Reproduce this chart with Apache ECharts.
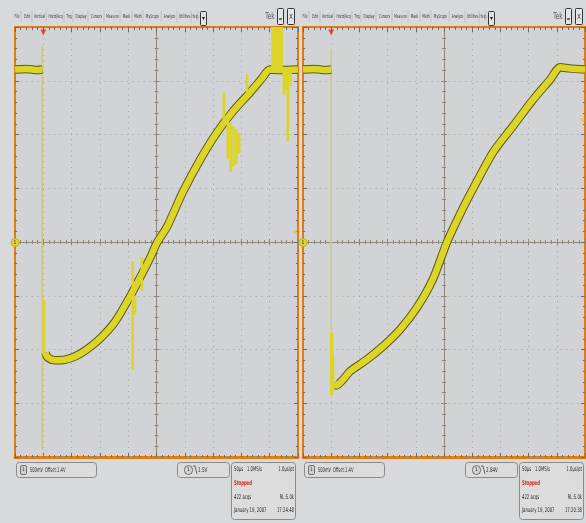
<!DOCTYPE html>
<html><head><meta charset="utf-8">
<script src="https://cdn.jsdelivr.net/npm/echarts@6/dist/echarts.min.js"></script>
<style>html,body{margin:0;padding:0;background:#d8d9da;}#c{width:586px;height:523px;}</style>
</head><body><div id="c"></div>
<script>
// Time in µs relative to trigger (50 µs/div), level in vertical divisions (500 mV/div, offset 1.4 V)
const leftTime  = [-50, -30, -10, -2, null, 4, 8, 21, 38, 56, 74, 100, 127, 153, 171, 189, 201, 219, 247, 277, 307, 335, 365, 386, 400, 418, 450];
const leftLevel = [3.21, 3.22, 3.20, 3.21, null, -2.06, -2.15, -2.20, -2.19, -2.13, -2.02, -1.80, -1.48, -1.02, -0.66, -0.29, -0.01, 0.29, 0.94, 1.53, 2.04, 2.43, 2.78, 3.04, 3.21, 3.20, 3.21];
const rightTime  = [-50, -30, -10, 0, null, 5, 9, 21, 33, 63, 92, 122, 152, 180, 205, 228, 251, 287, 322, 358, 388, 406, 423, 450];
const rightLevel = [3.21, 3.22, 3.20, 3.21, null, -2.62, -2.67, -2.56, -2.41, -2.19, -1.94, -1.63, -1.22, -0.70, -0.01, 0.51, 0.98, 1.67, 2.15, 2.65, 3.02, 3.25, 3.23, 3.21];
// glitches / spikes: time, top level, bottom level
const leftGlitchTime   = [1, 158, 162, 174, 319, 326, 331, 336, 341, 346, 360, 405, 409, 413, 417, 421, 425, 429, 432, 437];
const leftGlitchTop    = [-1.07, -0.36, -1.00, -0.29, 2.78, 2.28, 2.22, 2.15, 2.10, 2.03, 3.12, 4.00, 4.00, 4.00, 4.00, 4.00, 3.20, 3.20, 3.20, 3.20];
const leftGlitchBottom = [-2.12, -2.38, -1.35, -0.90, 2.20, 1.55, 1.30, 1.40, 1.45, 1.65, 2.70, 3.20, 3.20, 3.20, 3.20, 3.20, 2.74, 2.84, 1.87, 2.90];
const rightGlitchTime   = [1, 2.5];
const rightGlitchTop    = [-1.68, -2.10];
const rightGlitchBottom = [-2.85, -2.75];
// thin trigger edge line: time, top, bottom
const edgeLeft  = [-2, 3.64, -3.86];
const edgeRight = [0, 3.58, -1.63];
// trigger level markers (div)
const trigLevelDiv = [0.19, 2.28];
// texts
const menuItems = ['File','Edit','Vertical','Horiz/Acq','Trig','Display','Cursors','Measure','Mask','Math','MyScope','Analyze','Utilities','Help'];
const chanScale = '500mV', chanOffset = 'Offset:1.4V';
const trigLevels = ['1.5V', '2.84V'];
const timebase = ['50µs', '1.0MS/s', '1.0µs/pt'];
const acqState = 'Stopped';
const acqCount = '422 acqs', recLen = 'RL:5.0k';
const dates = ['January 19, 2007', 'January 19, 2007'];
const clock = ['17:24:48', '17:20:38'];

const ORANGE = '#e07c16', TICK = '#6a6a6a', GRIDC = '#a3a5a8', CENTER = '#8e877a';
const YEL = '#dcd529', DARK = '#5e5a14', EDGE = '#cdcc72';
const NARROW = '"Liberation Sans Narrow","DejaVu Sans Condensed","Liberation Sans",sans-serif';

const panels = [{left:15, top:27, width:283, height:430}, {left:303, top:27, width:282, height:430}];
const chart = echarts.init(document.getElementById('c'));

const xAxis = [], yAxis = [];
panels.forEach((p, g) => {
  const xb = g * 5, yb = g * 4;
  const bx = {gridIndex:g, type:'value', min:-50, max:450, interval:50, axisLabel:{show:false}, splitLine:{show:false}, axisTick:{show:false}, axisLine:{show:false, onZero:false}};
  xAxis.push(
    {...bx, position:'bottom', axisLine:{show:true,onZero:false,lineStyle:{color:ORANGE,width:3}}, axisTick:{show:true,inside:true,length:4,lineStyle:{color:TICK}}, minorTick:{show:true,splitNumber:5,length:2,lineStyle:{color:TICK}}, splitLine:{show:true,lineStyle:{color:GRIDC,type:[1,4.6],width:1}}},
    {...bx, position:'top', axisLine:{show:true,onZero:false,lineStyle:{color:ORANGE,width:2}}, axisTick:{show:true,inside:true,length:5,lineStyle:{color:TICK}}, minorTick:{show:true,splitNumber:5,length:3,lineStyle:{color:TICK}}},
    {...bx, position:'bottom', axisLine:{show:true,onZero:true,onZeroAxisIndex:yb,lineStyle:{color:CENTER,width:1}}, axisTick:{show:true,inside:true,length:3,lineStyle:{color:CENTER}}, minorTick:{show:true,splitNumber:5,length:2,lineStyle:{color:CENTER}}},
    {...bx, position:'bottom', axisLine:{show:false,onZero:true,onZeroAxisIndex:yb}, axisTick:{show:true,inside:false,length:3,lineStyle:{color:CENTER}}, minorTick:{show:true,splitNumber:5,length:2,lineStyle:{color:CENTER}}},
    {...bx, min:-250, max:250, position:'bottom'}
  );
  const by = {gridIndex:g, type:'value', min:-4, max:4, interval:1, axisLabel:{show:false}, splitLine:{show:false}, axisTick:{show:false}, axisLine:{show:false,onZero:false}};
  yAxis.push(
    {...by, position:'left', axisLine:{show:true,onZero:false,lineStyle:{color:ORANGE,width:2}}, axisTick:{show:true,inside:true,length:4,lineStyle:{color:TICK}}, minorTick:{show:true,splitNumber:5,length:2,lineStyle:{color:TICK}}, splitLine:{show:true,lineStyle:{color:GRIDC,type:[1,4.6],width:1}}},
    {...by, position:'right', axisLine:{show:true,onZero:false,lineStyle:{color:ORANGE,width:2}}, axisTick:{show:true,inside:true,length:4,lineStyle:{color:TICK}}, minorTick:{show:true,splitNumber:5,length:2,lineStyle:{color:TICK}}},
    {...by, position:'left', axisLine:{show:true,onZero:true,onZeroAxisIndex:xb+4,lineStyle:{color:CENTER,width:1}}, axisTick:{show:true,inside:true,length:3,lineStyle:{color:CENTER}}, minorTick:{show:true,splitNumber:5,length:2,lineStyle:{color:CENTER}}},
    {...by, position:'left', axisLine:{show:false,onZero:true,onZeroAxisIndex:xb+4}, axisTick:{show:true,inside:false,length:3,lineStyle:{color:CENTER}}, minorTick:{show:true,splitNumber:5,length:2,lineStyle:{color:CENTER}}}
  );
});

const zip = (t, v) => t.map((x, i) => (x === null ? [null, null] : [x, v[i]]));
const segs = (t, a, b) => { const out = []; t.forEach((x, i) => { out.push([x, a[i]], [x, b[i]], [x, null]); }); return out; };

const series = [];
const traces = [
  [leftTime, leftLevel, edgeLeft, leftGlitchTime, leftGlitchTop, leftGlitchBottom, 2.6],
  [rightTime, rightLevel, edgeRight, rightGlitchTime, rightGlitchTop, rightGlitchBottom, 3.5]
];
traces.forEach(([t, v, e, gt, ga, gb, gw], g) => {
  const xi = g * 5, yi = g * 4;
  series.push({type:'line', xAxisIndex:xi, yAxisIndex:yi, data:[[e[0], e[1]], [e[0], e[2]]], showSymbol:false, lineStyle:{color:EDGE, width:1.6}, z:2, silent:true});
  series.push({type:'line', xAxisIndex:xi, yAxisIndex:yi, data:zip(t, v), smooth:0.25, showSymbol:false, connectNulls:false, lineStyle:{color:DARK, width:8.5}, z:3, silent:true});
  series.push({type:'line', xAxisIndex:xi, yAxisIndex:yi, data:zip(t, v), smooth:0.25, showSymbol:false, connectNulls:false, lineStyle:{color:YEL, width:6.5}, z:4, silent:true});
  series.push({type:'line', xAxisIndex:xi, yAxisIndex:yi, data:segs(gt, ga, gb), showSymbol:false, connectNulls:false, lineStyle:{color:YEL, width:gw, cap:'butt'}, z:5, silent:true});
  series.push({type:'scatter', xAxisIndex:xi, yAxisIndex:yi, data:[[0, 3.9]], symbol:'triangle', symbolRotate:180, symbolSize:[6,6], itemStyle:{color:'#e0301a'}, z:6, silent:true});
  series.push({type:'scatter', xAxisIndex:xi, yAxisIndex:yi, data:[[444, trigLevelDiv[g]]], symbol:'triangle', symbolRotate:90, symbolSize:[5,5], itemStyle:{color:'#d9d22a'}, z:6, silent:true});
});

const menuX = [13,22,33,47,65,74,89,105,121,133,144,162,178,192,199];
const graphic = [];
[0, 288].forEach((dx, k) => {
  menuItems.forEach((m, i) => {
    graphic.push({type:'text', x:dx+menuX[i]+(menuX[i+1]-menuX[i]-1)/2, y:16.5, scaleX:0.6, style:{text:m, fontSize:5.5, fontFamily:NARROW, fill:'#3a3a3a', align:'center', verticalAlign:'middle'}});
    graphic.push({type:'line', shape:{x1:dx+menuX[i+1]-1, y1:11, x2:dx+menuX[i+1]-1, y2:22}, style:{stroke:'#b4b4b4', lineWidth:0.7}});
  });
  graphic.push({type:'rect', shape:{x:dx+200.5, y:11.5, width:6, height:14, r:1}, style:{fill:'#e2e2e2', stroke:'#333', lineWidth:1}});
  graphic.push({type:'text', x:dx+203.5, y:18.5, style:{text:'▾', fontSize:6, fill:'#222', align:'center', verticalAlign:'middle'}});
  graphic.push({type:'text', x:dx+270, y:17, scaleX:0.8, style:{text:'Tek', fontSize:8, fontFamily:NARROW, fill:'#555', align:'center', verticalAlign:'middle'}});
  graphic.push({type:'rect', shape:{x:dx+277.5, y:8.5, width:6, height:16, r:1}, style:{fill:'#e4e4e4', stroke:'#333', lineWidth:1}});
  graphic.push({type:'line', shape:{x1:dx+279, y1:19, x2:dx+282, y2:19}, style:{stroke:'#222', lineWidth:1.2}});
  graphic.push({type:'rect', shape:{x:dx+287.5, y:8.5, width:7, height:16, r:1}, style:{fill:'#e4e4e4', stroke:'#333', lineWidth:1}});
  graphic.push({type:'text', x:dx+291, y:17, scaleX:0.8, style:{text:'X', fontSize:7, fontFamily:NARROW, fill:'#222', align:'center', verticalAlign:'middle'}});
  // ground marker
  graphic.push({type:'circle', shape:{cx:dx+15, cy:242.5, r:4}, style:{fill:'#e3d72a', stroke:'#b9a818', lineWidth:0.8}, z:10});
  graphic.push({type:'text', x:dx+15, y:242.8, style:{text:'1', fontSize:5, fill:'#333', align:'center', verticalAlign:'middle'}, z:11});
  // channel box
  const tf = {fontSize:6.5, fontFamily:NARROW, fill:'#2a2a2a', verticalAlign:'middle'};
  graphic.push({type:'rect', shape:{x:dx+16.5, y:462.5, width:80, height:15, r:3}, style:{fill:'#dcdcdc', stroke:'#8a8a8a', lineWidth:1}});
  graphic.push({type:'rect', shape:{x:dx+20.5, y:465.5, width:6, height:9, r:1.5}, style:{fill:'#d4d4d4', stroke:'#555', lineWidth:0.8}});
  graphic.push({type:'text', x:dx+23.5, y:470, style:{...tf, text:'1', fontSize:5, align:'center'}});
  graphic.push({type:'text', x:dx+30, y:470, scaleX:0.62, style:{...tf, text:chanScale}});
  graphic.push({type:'text', x:dx+45, y:470, scaleX:0.62, style:{...tf, text:chanOffset}});
  // trigger box
  graphic.push({type:'rect', shape:{x:dx+177.5, y:462.5, width:52, height:15, r:3}, style:{fill:'#dcdcdc', stroke:'#8a8a8a', lineWidth:1}});
  graphic.push({type:'rect', shape:{x:dx+184.5, y:465.5, width:8, height:9, r:4}, style:{fill:'#d4d4d4', stroke:'#555', lineWidth:0.8}});
  graphic.push({type:'text', x:dx+188.5, y:470, style:{...tf, text:'1', fontSize:5, align:'center'}});
  graphic.push({type:'polyline', shape:{points:[[dx+193,466],[dx+195,466],[dx+197,474]]}, style:{stroke:'#444', lineWidth:0.8, fill:null}});
  graphic.push({type:'text', x:dx+198, y:470, scaleX:0.7, style:{...tf, text:trigLevels[k]}});
  // info box
  graphic.push({type:'rect', shape:{x:dx+231.5, y:462.5, width:64, height:57, r:3}, style:{fill:'#dcdcdc', stroke:'#8a8a8a', lineWidth:1}});
  graphic.push({type:'text', x:dx+234, y:469, scaleX:0.65, style:{...tf, text:timebase[0]}});
  graphic.push({type:'text', x:dx+247, y:469, scaleX:0.65, style:{...tf, text:timebase[1]}});
  graphic.push({type:'text', x:dx+294, y:469, scaleX:0.65, style:{...tf, text:timebase[2], align:'right'}});
  graphic.push({type:'text', x:dx+234, y:483, scaleX:0.65, style:{...tf, text:acqState, fill:'#d42222', fontWeight:'bold'}});
  graphic.push({type:'text', x:dx+234, y:497, scaleX:0.65, style:{...tf, text:acqCount}});
  graphic.push({type:'text', x:dx+294, y:497, scaleX:0.65, style:{...tf, text:recLen, align:'right'}});
  graphic.push({type:'text', x:dx+234, y:510.5, scaleX:0.65, style:{...tf, text:dates[k]}});
  graphic.push({type:'text', x:dx+294, y:510.5, scaleX:0.65, style:{...tf, text:clock[k], align:'right'}});
});

chart.setOption({
  backgroundColor:'#d8d9da',
  animation:false,
  grid: panels.map(p => ({...p, show:true, backgroundColor:'#d1d3d6', borderWidth:0, containLabel:false})),
  xAxis, yAxis, series, graphic
});
</script></body></html>
